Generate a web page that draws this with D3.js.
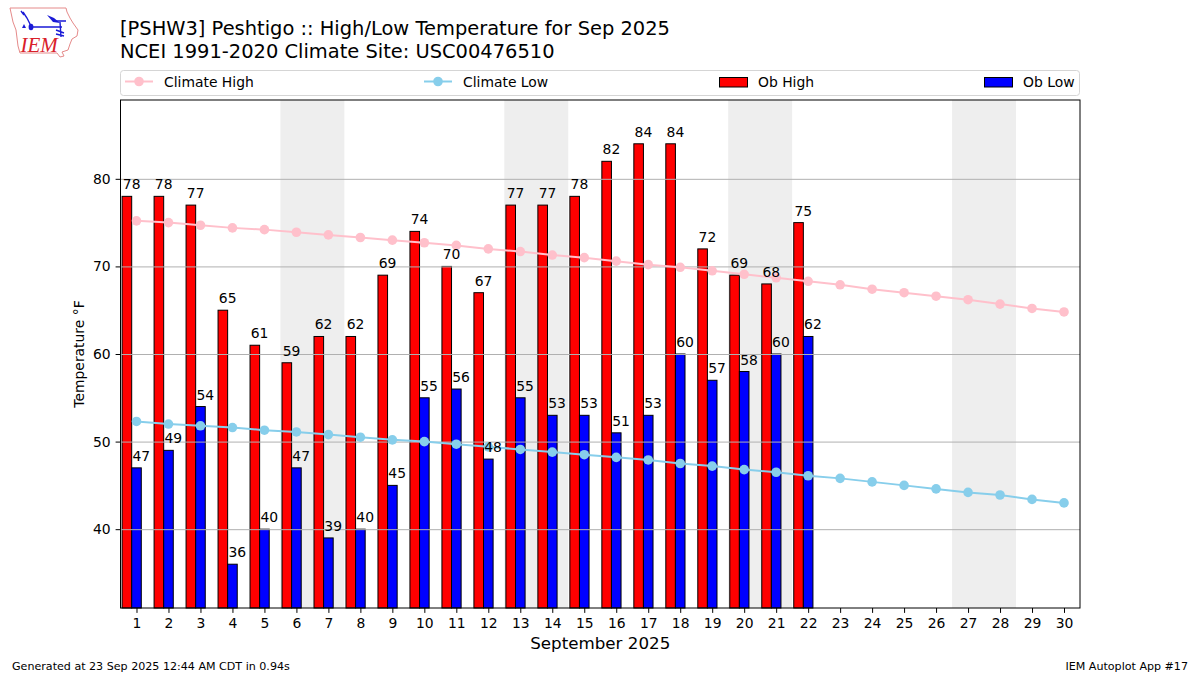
<!DOCTYPE html>
<html>
<head>
<meta charset="utf-8">
<script src="https://cdn.jsdelivr.net/npm/d3@7"></script>
<style>
  html, body { margin: 0; padding: 0; background: #fff; }
  text { font-family: "DejaVu Sans", sans-serif; fill: #000; }
</style>
</head>
<body>
<div id="chart"></div>
<script>
const days = d3.range(1, 31);
const obHigh = [78, 78, 77, 65, 61, 59, 62, 62, 69, 74, 70, 67, 77, 77, 78, 82, 84, 84, 72, 69, 68, 75];
const obLow = [47, 49, 54, 36, 40, 47, 39, 40, 45, 55, 56, 48, 55, 53, 53, 51, 53, 60, 57, 58, 60, 62];
const climateHigh = [75.2, 75.0, 74.7, 74.4, 74.2, 73.9, 73.6, 73.3, 73.0, 72.7, 72.4, 72.0, 71.7, 71.3, 71.0,
  70.6, 70.2, 69.9, 69.5, 69.1, 68.7, 68.3, 67.9, 67.4, 67.0, 66.6, 66.2, 65.7, 65.2, 64.8];
const climateLow = [52.3, 52.0, 51.8, 51.6, 51.3, 51.1, 50.8, 50.5, 50.2, 50.0, 49.7, 49.4, 49.1, 48.8, 48.5,
  48.2, 47.9, 47.5, 47.2, 46.8, 46.5, 46.1, 45.8, 45.4, 45.0, 44.6, 44.2, 43.9, 43.4, 43.0];
const weekends = [[5.5, 7.5], [12.5, 14.5], [19.5, 21.5], [26.5, 28.5]];
const yTicks = [40, 50, 60, 70, 80];

const margin = { top: 100, right: 120, bottom: 67, left: 120.5 };
const width = 1200 - margin.left - margin.right;
const height = 675 - margin.top - margin.bottom;

const root = d3.select("#chart").append("svg")
  .attr("width", 1200)
  .attr("height", 675)
  .style("display", "block");

const svg = root.append("g")
  .attr("transform", `translate(${margin.left},${margin.top})`);

// Scales
const x = d3.scaleLinear().domain([0.5, 30.5]).range([0, width]);
const y = d3.scaleLinear().domain([31, 89]).range([height, 0]);
const barWidth = x(1.3) - x(1);

// Weekend bands
svg.selectAll(".weekend")
  .data(weekends)
  .enter()
  .append("rect")
  .attr("x", d => x(d[0]))
  .attr("width", d => x(d[1]) - x(d[0]))
  .attr("y", 0)
  .attr("height", height)
  .style("fill", "#eeeeee");

// Bars
function addBars(values, offset, color) {
  svg.selectAll(null)
    .data(values)
    .enter()
    .append("rect")
    .attr("x", (d, i) => x(days[i] + offset))
    .attr("width", barWidth)
    .attr("y", d => y(d))
    .attr("height", d => height - y(d))
    .style("fill", color)
    .style("stroke", "#000")
    .style("stroke-width", 1);
}
addBars(obHigh, -0.45, "#ff0000");
addBars(obLow, -0.15, "#0000ff");

// Grid lines sit on top of the bars
svg.append("g")
  .call(d3.axisLeft(y).tickValues(yTicks).tickSize(-width).tickFormat(""))
  .call(g => g.select(".domain").remove())
  .selectAll("line")
  .style("stroke", "#b0b0b0")
  .style("stroke-width", 1);

// Climate lines
const line = d3.line().x((d, i) => x(days[i])).y(d => y(d));
function addClimate(values, color) {
  svg.append("path")
    .attr("d", line(values))
    .style("fill", "none")
    .style("stroke", color)
    .style("stroke-width", 2);
  svg.selectAll(null)
    .data(values)
    .enter()
    .append("circle")
    .attr("cx", (d, i) => x(days[i]))
    .attr("cy", d => y(d))
    .attr("r", 4.8)
    .style("fill", color);
}
addClimate(climateHigh, "#ffc0cb");
addClimate(climateLow, "#87ceeb");

// Value labels
function addLabels(values, offset) {
  svg.selectAll(null)
    .data(values)
    .enter()
    .append("text")
    .attr("x", (d, i) => x(days[i] + offset))
    .attr("y", d => y(d) - 7)
    .attr("text-anchor", "middle")
    .style("font-size", "13.9px")
    .text(d => d);
}
addLabels(obHigh, -0.15);
addLabels(obLow, 0.15);

// Axes
const xAxis = svg.append("g")
  .attr("transform", `translate(0,${height})`)
  .call(d3.axisBottom(x).tickValues(days).tickFormat(d3.format("d")).tickSize(4.9).tickPadding(4.9));
const yAxis = svg.append("g")
  .call(d3.axisLeft(y).tickValues(yTicks).tickSize(4.9).tickPadding(4.9));
[xAxis, yAxis].forEach(g => {
  g.selectAll("text").style("font-size", "13.9px").style("font-family", '"DejaVu Sans"').style("fill", "#000");
  g.select(".domain").remove();
  g.selectAll("line").style("stroke", "#000").style("stroke-width", 1);
});

// Plot frame
svg.append("rect")
  .attr("width", width)
  .attr("height", height)
  .style("fill", "none")
  .style("stroke", "#000")
  .style("stroke-width", 1);

// Axis labels
svg.append("text")
  .attr("x", width / 2)
  .attr("y", height + 41)
  .attr("text-anchor", "middle")
  .style("font-size", "16.7px")
  .text("September 2025");

svg.append("text")
  .attr("transform", `translate(-36.5,${height / 2}) rotate(-90)`)
  .attr("text-anchor", "middle")
  .style("font-size", "13.9px")
  .text("Temperature °F");

// Titles
root.append("text").attr("x", 120).attr("y", 35).style("font-size", "19.45px")
  .text("[PSHW3] Peshtigo :: High/Low Temperature for Sep 2025");
root.append("text").attr("x", 120).attr("y", 57.5).style("font-size", "19.45px")
  .text("NCEI 1991-2020 Climate Site: USC00476510");

// Legend
const legend = root.append("g");
legend.append("rect")
  .attr("x", 120.5).attr("y", 70.5)
  .attr("width", 959).attr("height", 25)
  .attr("rx", 3)
  .style("fill", "#fff")
  .style("stroke", "#d5d5d5")
  .style("stroke-width", 1);

const legendItems = [
  { label: "Climate High", color: "#ffc0cb", type: "line", at: 125 },
  { label: "Climate Low", color: "#87ceeb", type: "line", at: 424 },
  { label: "Ob High", color: "#ff0000", type: "bar", at: 719 },
  { label: "Ob Low", color: "#0000ff", type: "bar", at: 984 },
];
legendItems.forEach(d => {
  if (d.type === "line") {
    legend.append("line")
      .attr("x1", d.at).attr("x2", d.at + 28).attr("y1", 81.5).attr("y2", 81.5)
      .style("stroke", d.color).style("stroke-width", 2);
    legend.append("circle")
      .attr("cx", d.at + 14).attr("cy", 81.5).attr("r", 4.8)
      .style("fill", d.color);
  } else {
    legend.append("rect")
      .attr("x", d.at + 0.5).attr("y", 77.5).attr("width", 28).attr("height", 9.5)
      .style("fill", d.color).style("stroke", "#000").style("stroke-width", 1);
  }
  legend.append("text")
    .attr("x", d.at + 39)
    .attr("y", 86.5)
    .style("font-size", "13.9px")
    .text(d.label);
});

// Footer
root.append("text").attr("x", 12).attr("y", 670).style("font-size", "11.1px")
  .text("Generated at 23 Sep 2025 12:44 AM CDT in 0.94s");
root.append("text").attr("x", 1188).attr("y", 670).attr("text-anchor", "end").style("font-size", "11.1px")
  .text("IEM Autoplot App #17");

// IEM logo
const logo = root.append("g");
logo.append("path")
  .attr("d", "M10,8 L66,8 L67,12 L70,18 L73,23 L78,30 L77,36 L72,39 L70,44 L68,50 L62,52 L64,56 L60,57 L57,53 L20,53 L18,46 L16,30 L13,22 Z")
  .style("fill", "#fff")
  .style("stroke", "#e58a8a")
  .style("stroke-width", 1);
logo.append("path")
  .attr("d", "M31,27 L62,27 M60,22 L61,37 M23,12 L27,18 L31,26 M21,11 L24,15 M55,21 L66,21 M56,30 L64,33 M56,34 L64,36")
  .style("fill", "none")
  .style("stroke", "#1a1ad6")
  .style("stroke-width", 1.4);
logo.append("ellipse").attr("cx", 31).attr("cy", 27).attr("rx", 2.4).attr("ry", 3.2).style("fill", "#1a1ad6");
logo.append("path").attr("d", "M47,15 L54,18 L60,23 L53,22 Z").style("fill", "#1a1ad6");
logo.append("path").attr("d", "M22,28 L24,24 L26,28 Z").style("fill", "#1a1ad6");
logo.append("text")
  .attr("x", 20.5).attr("y", 52)
  .style("font-family", '"Liberation Serif", serif')
  .style("font-style", "italic")
  .style("font-size", "21px")
  .style("fill", "#d9202a")
  .text("IEM");
</script>
</body>
</html>
